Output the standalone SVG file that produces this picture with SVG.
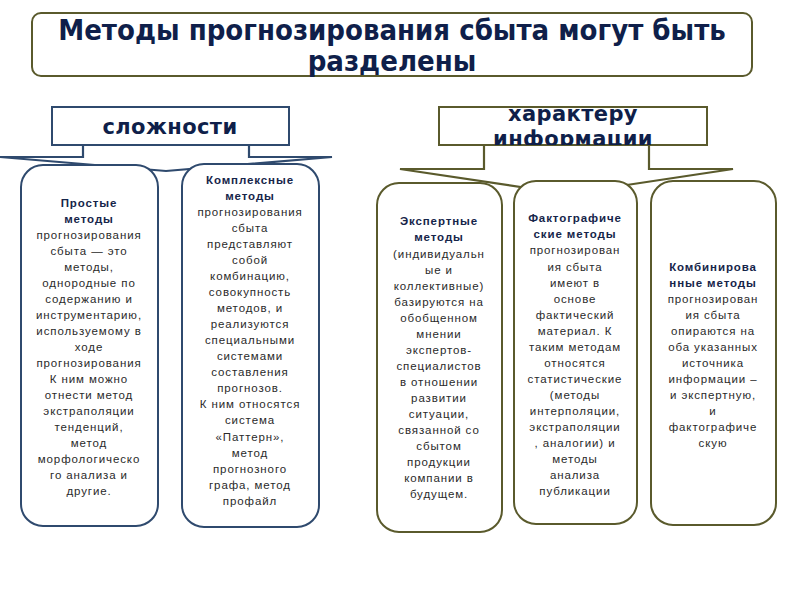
<svg xmlns="http://www.w3.org/2000/svg" width="800" height="600" viewBox="0 0 800 600">
<style>
.bg{fill:#ffffff}
.olive{fill:#ffffff;stroke:#5a5a2c;stroke-width:2}
.navy{fill:#ffffff;stroke:#2f4a6e;stroke-width:2}
.title{font-family:"DejaVu Sans Condensed","DejaVu Sans",sans-serif;font-stretch:condensed;font-weight:bold;font-size:29px;fill:#0f1f4a;text-anchor:middle}
.lbl{font-family:"DejaVu Sans",sans-serif;font-weight:bold;font-size:21px;fill:#0f1f4a;text-anchor:middle;letter-spacing:0.4px}
.t{font-family:"Liberation Sans",Arial,sans-serif;font-size:11.5px;fill:#2a2a2a;text-anchor:middle;letter-spacing:0.9px}
.b{font-weight:bold;fill:#16254a}
.conn-n{fill:none;stroke:#2f4a6e;stroke-width:2.2}
.conn-o{fill:none;stroke:#5a5a2c;stroke-width:2.2}
</style>
<defs>
<clipPath id="clipR"><rect x="439" y="107" width="268" height="38"/></clipPath>
</defs>
<rect class="bg" width="800" height="600"/>

<g id="title">
<rect class="olive" x="32" y="13" width="720" height="63" rx="9"/>
<text class="title" x="392" y="40">Методы прогнозирования сбыта могут быть</text>
<text class="title" x="392" y="71">разделены</text>
</g>

<g id="connectors">
<polyline class="conn-n" points="83,145 83,157 0,157 166,171 332,157 249,157 249,145"/>
<polyline class="conn-o" points="484,145 484,169 400,169 567,194 733,169 649,169 649,145"/>
</g>

<g id="lbl-complexity">
<rect class="navy" x="52" y="107" width="237" height="38"/>
<text class="lbl" x="170" y="134">сложности</text>
</g>

<g id="lbl-info">
<rect class="olive" x="439" y="107" width="268" height="38"/>
<g clip-path="url(#clipR)">
<text class="lbl" x="573" y="121">характеру</text>
<text class="lbl" x="573" y="146">информации</text>
</g>
</g>

<g id="simple">
<rect class="navy" x="21" y="165" width="137" height="361" rx="22"/>
<text class="t b" x="89" y="207">Простые</text>
<text class="t b" x="89" y="223">методы</text>
<text class="t" x="89" y="239">прогнозирования</text>
<text class="t" x="89" y="255">сбыта — это</text>
<text class="t" x="89" y="271">методы,</text>
<text class="t" x="89" y="287">однородные по</text>
<text class="t" x="89" y="303">содержанию и</text>
<text class="t" x="89" y="319">инструментарию,</text>
<text class="t" x="89" y="335">используемому в</text>
<text class="t" x="89" y="351">ходе</text>
<text class="t" x="89" y="367">прогнозирования</text>
<text class="t" x="89" y="383">К ним можно</text>
<text class="t" x="89" y="399">отнести метод</text>
<text class="t" x="89" y="415">экстраполяции</text>
<text class="t" x="89" y="431">тенденций,</text>
<text class="t" x="89" y="447">метод</text>
<text class="t" x="89" y="463">морфологическо</text>
<text class="t" x="89" y="479">го анализа и</text>
<text class="t" x="89" y="495">другие.</text>
</g>

<g id="complex">
<rect class="navy" x="182" y="164" width="137" height="363" rx="22"/>
<text class="t b" x="250" y="184">Комплексные</text>
<text class="t b" x="250" y="200">методы</text>
<text class="t" x="250" y="216">прогнозирования</text>
<text class="t" x="250" y="232">сбыта</text>
<text class="t" x="250" y="248">представляют</text>
<text class="t" x="250" y="264">собой</text>
<text class="t" x="250" y="280">комбинацию,</text>
<text class="t" x="250" y="296">совокупность</text>
<text class="t" x="250" y="312">методов, и</text>
<text class="t" x="250" y="328">реализуются</text>
<text class="t" x="250" y="344">специальными</text>
<text class="t" x="250" y="360">системами</text>
<text class="t" x="250" y="376">составления</text>
<text class="t" x="250" y="392">прогнозов.</text>
<text class="t" x="250" y="408">К ним относятся</text>
<text class="t" x="250" y="424">система</text>
<text class="t" x="250" y="441">«Паттерн»,</text>
<text class="t" x="250" y="457">метод</text>
<text class="t" x="250" y="473">прогнозного</text>
<text class="t" x="250" y="489">графа, метод</text>
<text class="t" x="250" y="505">профайл</text>
</g>

<g id="expert">
<rect class="olive" x="377" y="183" width="125" height="349" rx="22"/>
<text class="t b" x="439" y="225">Экспертные</text>
<text class="t b" x="439" y="241">методы</text>
<text class="t" x="439" y="258">(индивидуальн</text>
<text class="t" x="439" y="274">ые и</text>
<text class="t" x="439" y="290">коллективные)</text>
<text class="t" x="439" y="306">базируются на</text>
<text class="t" x="439" y="322">обобщенном</text>
<text class="t" x="439" y="338">мнении</text>
<text class="t" x="439" y="354">экспертов-</text>
<text class="t" x="439" y="370">специалистов</text>
<text class="t" x="439" y="386">в отношении</text>
<text class="t" x="439" y="402">развитии</text>
<text class="t" x="439" y="418">ситуации,</text>
<text class="t" x="439" y="434">связанной со</text>
<text class="t" x="439" y="450">сбытом</text>
<text class="t" x="439" y="466">продукции</text>
<text class="t" x="439" y="482">компании  в</text>
<text class="t" x="439" y="498">будущем.</text>
</g>

<g id="factual">
<rect class="olive" x="514" y="181" width="123" height="343" rx="22"/>
<text class="t b" x="575" y="222">Фактографиче</text>
<text class="t b" x="575" y="238">ские методы</text>
<text class="t" x="575" y="254">прогнозирован</text>
<text class="t" x="575" y="271">ия сбыта</text>
<text class="t" x="575" y="287">имеют в</text>
<text class="t" x="575" y="303">основе</text>
<text class="t" x="575" y="319">фактический</text>
<text class="t" x="575" y="335">материал. К</text>
<text class="t" x="575" y="351">таким методам</text>
<text class="t" x="575" y="367">относятся</text>
<text class="t" x="575" y="383">статистические</text>
<text class="t" x="575" y="399">(методы</text>
<text class="t" x="575" y="415">интерполяции,</text>
<text class="t" x="575" y="431">экстраполяции</text>
<text class="t" x="575" y="447">, аналогии) и</text>
<text class="t" x="575" y="463">методы</text>
<text class="t" x="575" y="479">анализа</text>
<text class="t" x="575" y="495">публикации</text>
</g>

<g id="combined">
<rect class="olive" x="651" y="181" width="125" height="344" rx="22"/>
<text class="t b" x="713" y="271">Комбинирова</text>
<text class="t b" x="713" y="287">нные методы</text>
<text class="t" x="713" y="303">прогнозирован</text>
<text class="t" x="713" y="319">ия сбыта</text>
<text class="t" x="713" y="335">опираются на</text>
<text class="t" x="713" y="351">оба указанных</text>
<text class="t" x="713" y="367">источника</text>
<text class="t" x="713" y="383">информации –</text>
<text class="t" x="713" y="399">и экспертную,</text>
<text class="t" x="713" y="415">и</text>
<text class="t" x="713" y="431">фактографиче</text>
<text class="t" x="713" y="447">скую</text>
</g>
</svg>
